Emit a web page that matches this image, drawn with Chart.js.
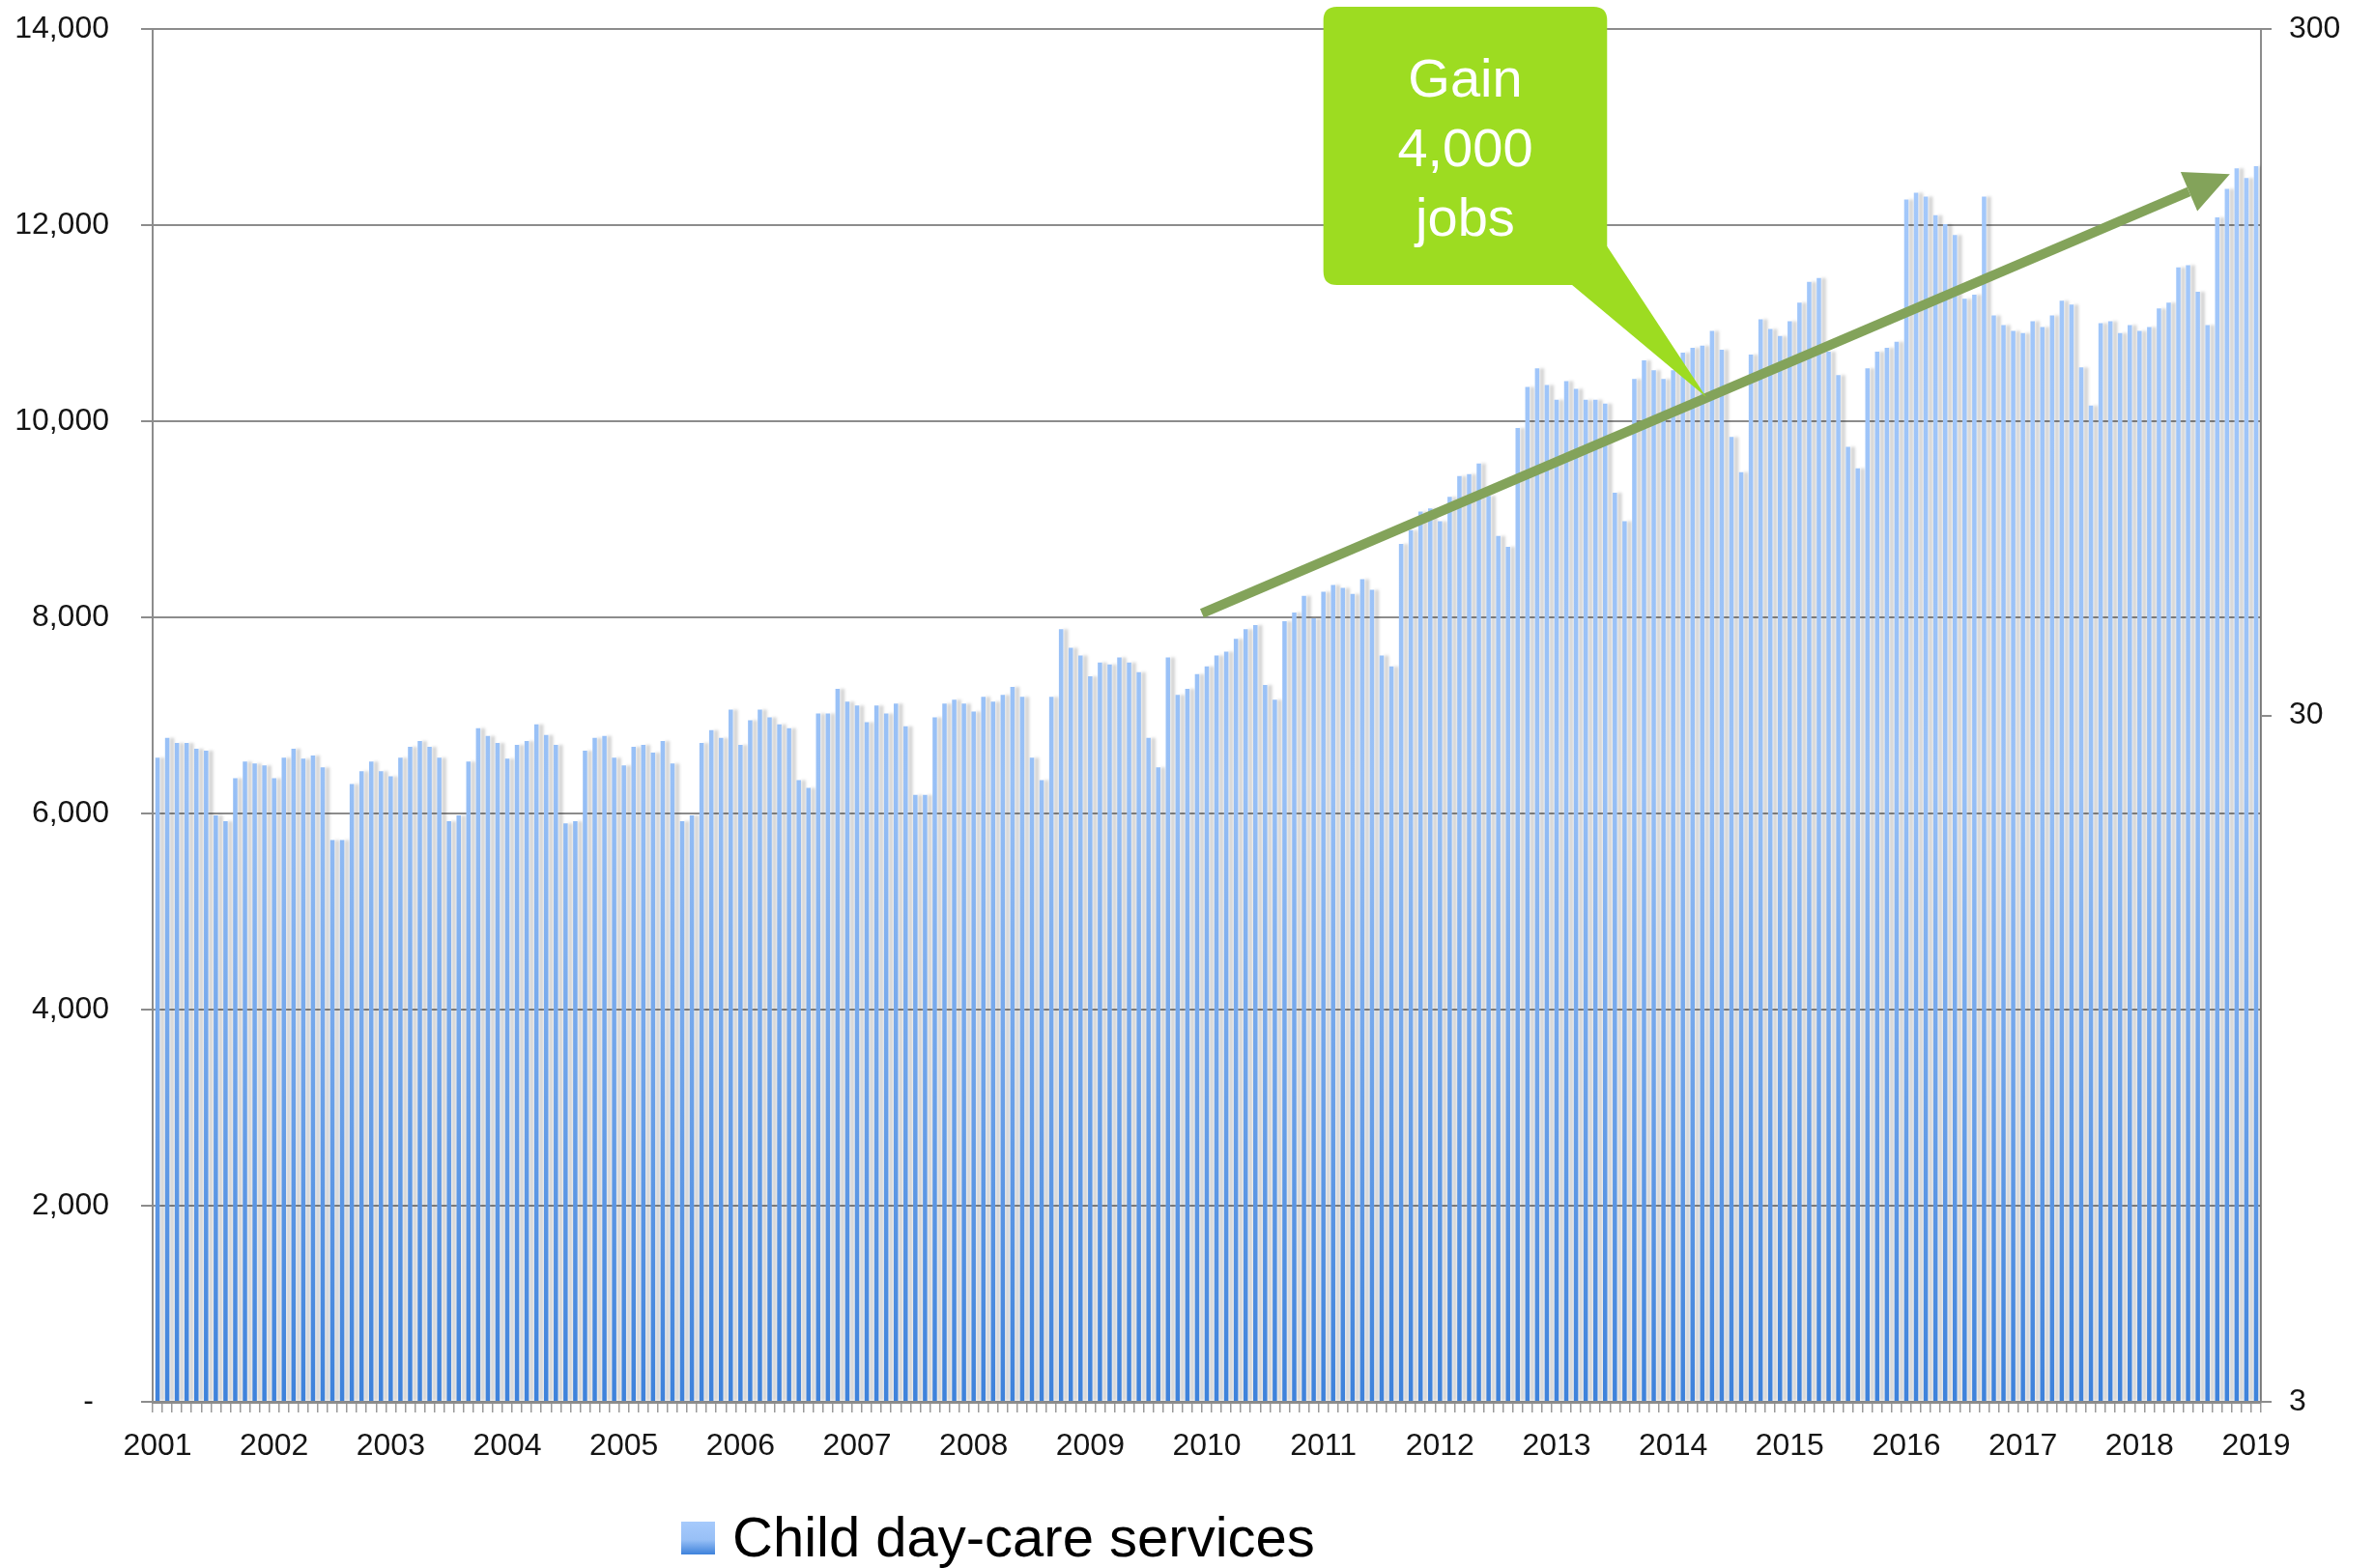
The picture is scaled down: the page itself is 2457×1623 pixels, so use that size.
<!DOCTYPE html>
<html>
<head>
<meta charset="utf-8">
<title>Child day-care services</title>
<script src="https://cdn.jsdelivr.net/npm/chart.js@4.4.1/dist/chart.umd.min.js"></script>
<style>
  html, body { margin: 0; padding: 0; background: #fff; }
  #wrap { width: 2457px; height: 1623px; }
</style>
</head>
<body>
<div id="wrap"><canvas id="daycareChart" width="2457" height="1623"></canvas></div>
<script>
// monthly jobs, Jan 2001 - Jan 2019
const years = ['2001', '2002', '2003', '2004', '2005', '2006', '2007', '2008', '2009', '2010',
  '2011', '2012', '2013', '2014', '2015', '2016', '2017', '2018', '2019'];
const v2001 = [6570, 6770, 6720, 6720, 6660, 6640, 5980, 5920, 6360, 6530, 6510, 6490];
const v2002 = [6360, 6570, 6660, 6560, 6590, 6470, 5730, 5730, 6300, 6430, 6530, 6430];
const v2003 = [6380, 6570, 6680, 6740, 6680, 6570, 5920, 5980, 6530, 6870, 6790, 6720];
const v2004 = [6560, 6700, 6740, 6910, 6800, 6700, 5900, 5920, 6640, 6770, 6790, 6570];
const v2005 = [6490, 6680, 6700, 6620, 6740, 6510, 5920, 5980, 6720, 6850, 6770, 7060];
const v2006 = [6700, 6950, 7060, 6980, 6910, 6870, 6340, 6260, 7020, 7020, 7270, 7140];
const v2007 = [7100, 6930, 7100, 7020, 7120, 6890, 6190, 6190, 6980, 7120, 7160, 7120];
const v2008 = [7040, 7190, 7140, 7210, 7290, 7190, 6570, 6340, 7190, 7880, 7690, 7610];
const v2009 = [7400, 7540, 7520, 7590, 7540, 7440, 6770, 6470, 7590, 7210, 7270, 7420];
const v2010 = [7500, 7610, 7650, 7780, 7880, 7920, 7310, 7160, 7960, 8050, 8220, 7990];
const v2011 = [8260, 8330, 8300, 8240, 8390, 8280, 7610, 7500, 8750, 8890, 9080, 9110];
const v2012 = [8980, 9230, 9440, 9460, 9570, 9240, 8830, 8720, 9930, 10350, 10540, 10370];
const v2013 = [10220, 10410, 10330, 10220, 10220, 10180, 9270, 8980, 10430, 10620, 10520, 10430];
const v2014 = [10520, 10700, 10750, 10770, 10920, 10730, 9840, 9480, 10680, 11040, 10940, 10870];
const v2015 = [11020, 11210, 11420, 11460, 10710, 10470, 9740, 9520, 10540, 10710, 10750, 10810];
const v2016 = [12260, 12330, 12290, 12100, 12010, 11900, 11250, 11290, 12290, 11080, 10980, 10920];
const v2017 = [10900, 11020, 10960, 11080, 11230, 11190, 10550, 10160, 11000, 11020, 10900, 10980];
const v2018 = [10920, 10960, 11150, 11210, 11570, 11590, 11320, 10980, 12080, 12370, 12580, 12480];
const v2019 = [12600];

const seriesLabel = 'Child day-care services';
const rightTicks = [3, 30, 300];
const calloutLines = ['Gain', '4,000', 'jobs'];

// annotation anchors, in (month index, jobs) coordinates
const trendArrow = { from: [107.5, 8040], to: [213.3, 12520] };
const callout = {
  left: 120.0, right: 149.2, top: 14226, bottom: 11390,
  baseA: [145.6, 11390], baseB: [149.2, 11783], tip: [159.4, 10246]
};

const yearly = [v2001, v2002, v2003, v2004, v2005, v2006, v2007, v2008, v2009, v2010,
  v2011, v2012, v2013, v2014, v2015, v2016, v2017, v2018, v2019];
const labels = [];
const values = [];
yearly.forEach(function(arr, i) {
  arr.forEach(function(v, m) {
    labels.push(years[i] + '-' + String(m + 1).padStart(2, '0'));
    values.push(v);
  });
});

const FONT = '"Liberation Sans", Arial, sans-serif';
const GRID = '#8c8c8c';
Chart.defaults.font.family = FONT;
Chart.defaults.color = '#151515';

function barGradient(ctx, top, bottom) {
  const g = ctx.createLinearGradient(0, top, 0, bottom);
  g.addColorStop(0, '#a6cafc');
  g.addColorStop(0.55, '#98c0f6');
  g.addColorStop(1, '#3e82db');
  return g;
}

// soft grey shadow to the right of each bar
const barShadow = {
  id: 'barShadow',
  beforeDatasetsDraw(chart) {
    const c = chart.ctx;
    c.save();
    c.shadowColor = 'rgba(0, 0, 0, 0.17)';
    c.shadowBlur = 3;
    c.shadowOffsetX = 5;
    c.shadowOffsetY = 0;
  },
  afterDatasetsDraw(chart) {
    chart.ctx.restore();
  }
};

// green trend arrow + "Gain 4,000 jobs" callout
const annotations = {
  id: 'annotations',
  afterDatasetsDraw(chart) {
    const c = chart.ctx;
    const xs = chart.scales.x;
    const ys = chart.scales.y;
    const px = function(p) { return [xs.getPixelForValue(p[0]), ys.getPixelForValue(p[1])]; };

    // arrow
    const a = px(trendArrow.from);
    const b = px(trendArrow.to);
    const ang = Math.atan2(b[1] - a[1], b[0] - a[0]);
    const headLen = 46, headHalf = 22;
    const bx = b[0] - headLen * Math.cos(ang);
    const by = b[1] - headLen * Math.sin(ang);
    c.save();
    c.strokeStyle = '#83a35a';
    c.fillStyle = '#83a35a';
    c.lineWidth = 10;
    c.beginPath();
    c.moveTo(a[0], a[1]);
    c.lineTo(bx, by);
    c.stroke();
    c.beginPath();
    c.moveTo(b[0], b[1]);
    c.lineTo(bx + headHalf * Math.sin(ang), by - headHalf * Math.cos(ang));
    c.lineTo(bx - headHalf * Math.sin(ang), by + headHalf * Math.cos(ang));
    c.closePath();
    c.fill();

    // callout box
    const l = xs.getPixelForValue(callout.left);
    const r = xs.getPixelForValue(callout.right);
    const t = ys.getPixelForValue(callout.top);
    const btm = ys.getPixelForValue(callout.bottom);
    const rad = 14;
    c.fillStyle = '#9ddc21';
    c.beginPath();
    c.moveTo(l + rad, t);
    c.lineTo(r - rad, t);
    c.quadraticCurveTo(r, t, r, t + rad);
    c.lineTo(r, btm - rad);
    c.quadraticCurveTo(r, btm, r - rad, btm);
    c.lineTo(l + rad, btm);
    c.quadraticCurveTo(l, btm, l, btm - rad);
    c.lineTo(l, t + rad);
    c.quadraticCurveTo(l, t, l + rad, t);
    c.closePath();
    c.fill();
    const pa = px(callout.baseA), pb = px(callout.baseB), pt = px(callout.tip);
    c.beginPath();
    c.moveTo(pa[0], pa[1]);
    c.lineTo(pt[0], pt[1]);
    c.lineTo(pb[0], pb[1]);
    c.closePath();
    c.fill();

    c.fillStyle = '#ffffff';
    c.font = '56px ' + FONT;
    c.textAlign = 'center';
    c.textBaseline = 'alphabetic';
    const cx = (l + r) / 2;
    const cy = (t + btm) / 2;
    calloutLines.forEach(function(line, i) {
      c.fillText(line, cx, cy + 21 + (i - 1) * 72);
    });
    c.restore();
  }
};

// legend below the axis, placed like the original
const bottomLegend = {
  id: 'bottomLegend',
  afterDraw(chart) {
    const c = chart.ctx;
    const ds = chart.data.datasets[0];
    c.save();
    c.fillStyle = barGradient(c, 1575, 1609);
    c.fillRect(705, 1575, 35, 34);
    c.fillStyle = '#000';
    c.font = '58px ' + FONT;
    c.textAlign = 'left';
    c.textBaseline = 'alphabetic';
    c.fillText(ds.label, 758, 1611);
    c.restore();
  }
};

// y axes: fixed width, and no extra vertical padding from the tick labels
function fixVertical(width) {
  return function(scale) {
    scale.width = width;
    scale.paddingTop = 0;
    scale.paddingBottom = 0;
  };
}

const ctx = document.getElementById('daycareChart').getContext('2d');
new Chart(ctx, {
  type: 'bar',
  data: {
    labels: labels,
    datasets: [{
      label: seriesLabel,
      data: values,
      yAxisID: 'y',
      backgroundColor: function(context) {
        const area = context.chart.chartArea;
        if (!area) return '#98c0f6';
        return barGradient(context.chart.ctx, area.top, area.bottom);
      },
      borderWidth: 0,
      barPercentage: 0.45,
      categoryPercentage: 1.0
    }]
  },
  options: {
    responsive: false,
    animation: false,
    devicePixelRatio: 1,
    layout: { padding: { top: 30, left: 0, right: 0, bottom: 0 } },
    plugins: {
      legend: { display: false },
      tooltip: { enabled: false },
      title: { display: false }
    },
    scales: {
      x: {
        offset: true,
        afterFit: function(scale) { scale.height = 172; },
        grid: {
          display: true,
          offset: true,
          drawOnChartArea: false,
          drawTicks: true,
          tickLength: 11,
          color: '#9a9a9a',
          lineWidth: 1.5
        },
        border: { display: true, color: GRID, width: 3 },
        ticks: {
          autoSkip: false,
          maxRotation: 0,
          minRotation: 0,
          padding: 16,
          font: { size: 32 },
          color: '#151515',
          callback: function(val, index) {
            const lab = labels[index];
            return lab.endsWith('-01') ? lab.slice(0, 4) : '';
          }
        }
      },
      y: {
        position: 'left',
        min: 0,
        max: 14000,
        afterFit: fixVertical(158),
        grid: {
          color: GRID,
          lineWidth: 2,
          drawTicks: true,
          tickLength: 12
        },
        border: { display: true, color: GRID, width: 2 },
        ticks: {
          stepSize: 2000,
          padding: 33,
          font: { size: 32 },
          color: '#151515',
          callback: function(v) {
            return v === 0 ? '-\u2002' : v.toLocaleString('en-US');
          }
        }
      },
      y2: {
        type: 'logarithmic',
        position: 'right',
        min: 3,
        max: 300,
        afterFit: fixVertical(117),
        afterBuildTicks: function(scale) {
          scale.ticks = rightTicks.map(function(v) { return { value: v }; });
        },
        grid: {
          drawOnChartArea: false,
          drawTicks: true,
          tickLength: 11,
          color: GRID,
          lineWidth: 2
        },
        border: { display: true, color: GRID, width: 2 },
        ticks: {
          padding: 18,
          font: { size: 32 },
          color: '#151515',
          callback: function(v) { return String(v); }
        }
      }
    }
  },
  plugins: [barShadow, annotations, bottomLegend]
});
</script>
</body>
</html>
